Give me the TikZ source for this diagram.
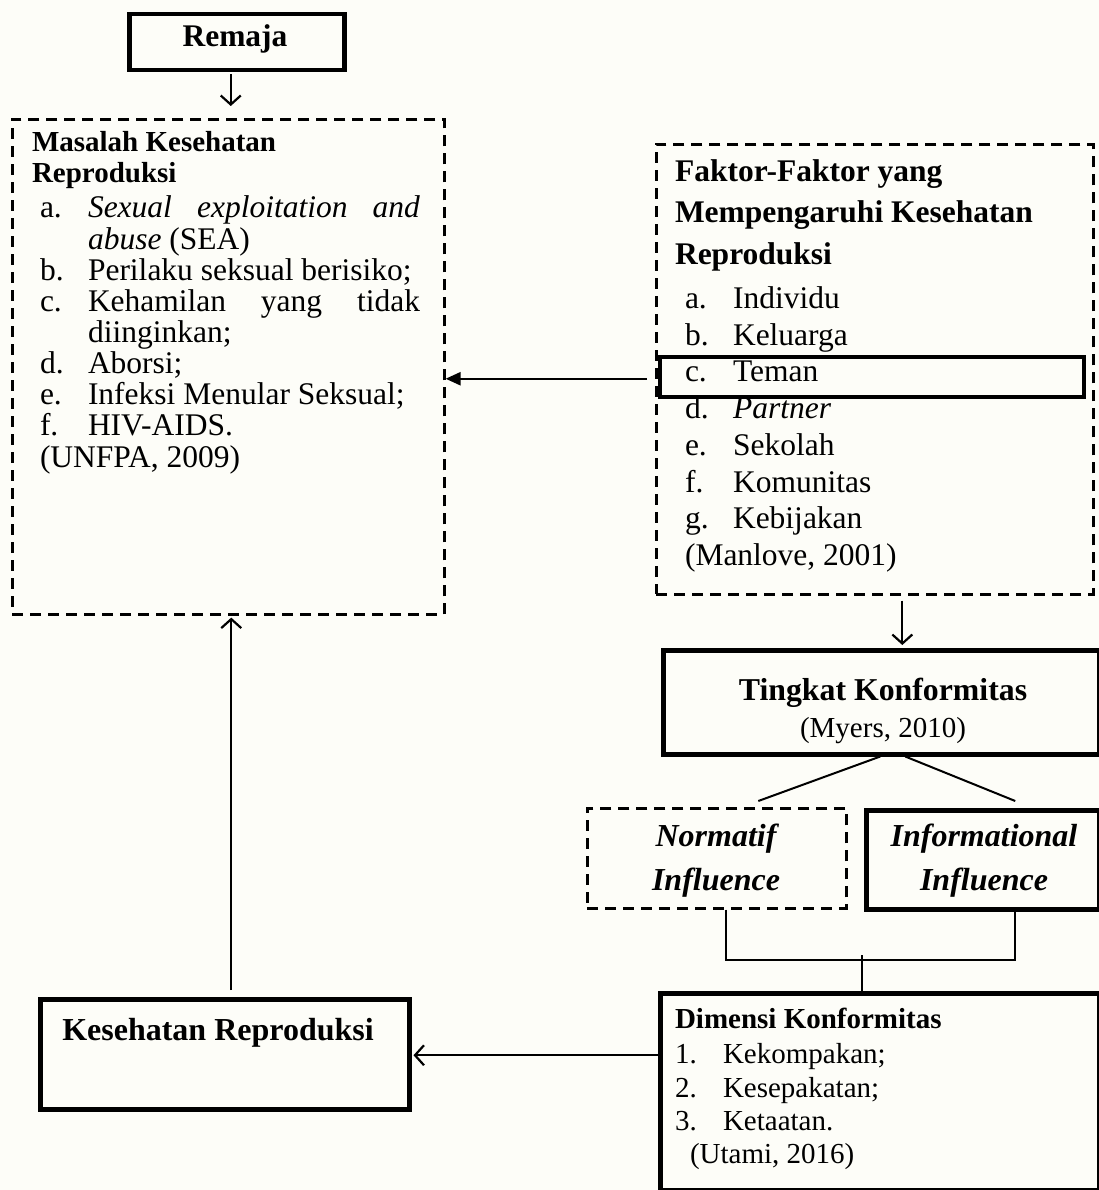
\documentclass[tikz,border=0pt]{standalone}
\usepackage{fontspec}
\setmainfont{Liberation Serif}
\usetikzlibrary{arrows.meta,calc}
\newcommand\fwide{\rmfamily\fontsize{31.5}{31}\selectfont}
\newcommand\fmid{\rmfamily\fontsize{29}{31}\selectfont}
\newcommand\fbig{\rmfamily\fontsize{31.8}{33}\selectfont}
\newcommand\fbigger{\rmfamily\fontsize{32}{36}\selectfont}
\definecolor{bgc}{RGB}{253,253,248}
\begin{document}
\begin{tikzpicture}[x=1pt,y=-1pt,
  txt/.style={inner sep=0pt, outer sep=0pt, anchor=base west, font=\fwide},
  ctxt/.style={inner sep=0pt, outer sep=0pt, anchor=base},
  dbox/.style={draw, line width=2.6pt, dash pattern=on 11pt off 7pt, inner sep=0pt, anchor=north west},
  sbox/.style={draw, line width=4.5pt, inner sep=0pt, anchor=north west},
  oarr/.style={-{Straight Barb[length=9pt,width=20pt]}, line width=2.2pt},
  farr/.style={-{Triangle[length=15pt,width=13pt]}, line width=2.4pt},
  link/.style={line width=2pt}]
\fill[bgc] (0,0) rectangle (1099,1190);
\useasboundingbox (0,0) rectangle (1099,1190);

% boxes
\node[sbox, minimum width=215pt, minimum height=56pt] (remaja) at (127,12) {};
\node[dbox, minimum width=432pt, minimum height=495pt] (masalah) at (11,118) {};
\node[dbox, minimum width=437pt, minimum height=450pt] (faktor) at (655,143) {};
\node[sbox, line width=3.5pt, minimum width=424pt, minimum height=40pt] (teman) at (658,355) {};
\node[sbox, minimum width=436pt, minimum height=104pt] (tingkat) at (661,648) {};
\node[dbox, minimum width=259pt, minimum height=100pt] (normatif) at (586,807) {};
\node[sbox, minimum width=233pt, minimum height=99pt] (informational) at (864,808) {};
\node[sbox, minimum width=439pt, minimum height=197pt] (dimensi) at (658,991) {};
\node[sbox, minimum width=369pt, minimum height=110pt] (kesehatan) at (38,997) {};

% texts
\node[ctxt, font=\fwide\bfseries] (tremaja) at (235,47) {Remaja};

\node[txt, font=\fmid\bfseries] (m1) at (32,152) {Masalah Kesehatan};
\node[txt, font=\fmid\bfseries] (m2) at (32,183) {Reproduksi};
\node[txt] (ma) at (40,218) {a.};
\node[txt] (ma1) at (88,218) {\makebox[332pt][s]{\textit{Sexual} \textit{exploitation} \textit{and}}};
\node[txt] (ma2) at (88,249) {\textit{abuse} (SEA)};
\node[txt] (mb) at (40,280) {b.};
\node[txt] (mb1) at (88,280) {Perilaku seksual berisiko;};
\node[txt] (mc) at (40,311) {c.};
\node[txt] (mc1) at (88,311) {\makebox[332pt][s]{Kehamilan yang tidak}};
\node[txt] (mc2) at (88,342) {diinginkan;};
\node[txt] (md) at (40,373) {d.};
\node[txt] (md1) at (88,373) {Aborsi;};
\node[txt] (me) at (40,404) {e.};
\node[txt] (me1) at (88,404) {Infeksi Menular Seksual;};
\node[txt] (mf) at (40,435) {f.};
\node[txt] (mf1) at (88,435) {HIV-AIDS.};
\node[txt] (mref) at (40,467) {(UNFPA, 2009)};

\node[txt, font=\fwide\bfseries] (f1) at (675,182) {Faktor-Faktor yang};
\node[txt, font=\fwide\bfseries] (f2) at (675,223) {Mempengaruhi Kesehatan};
\node[txt, font=\fwide\bfseries] (f3) at (675,265) {Reproduksi};
\node[txt] (fa) at (685,308) {a.};
\node[txt] (fa1) at (733,308) {Individu};
\node[txt] (fb) at (685,345) {b.};
\node[txt] (fb1) at (733,345) {Keluarga};
\node[txt] (fc) at (685,381) {c.};
\node[txt] (fc1) at (733,381) {Teman};
\node[txt] (fd) at (685,418) {d.};
\node[txt] (fd1) at (733,418) {\textit{Partner}};
\node[txt] (fe) at (685,455) {e.};
\node[txt] (fe1) at (733,455) {Sekolah};
\node[txt] (ff) at (685,492) {f.};
\node[txt] (ff1) at (733,492) {Komunitas};
\node[txt] (fg) at (685,528) {g.};
\node[txt] (fg1) at (733,528) {Kebijakan};
\node[txt] (fref) at (685,565) {(Manlove, 2001)};

\node[ctxt, font=\fbig\bfseries] (t1) at (883,700) {Tingkat Konformitas};
\node[ctxt, font=\fmid] (t2) at (883,737) {(Myers, 2010)};

\node[ctxt, font=\fbigger\bfseries\itshape] (n1) at (716,846) {Normatif};
\node[ctxt, font=\fbigger\bfseries\itshape] (n2) at (716,890) {Influence};
\node[ctxt, font=\fbigger\bfseries\itshape] (i1) at (984,846) {Informational};
\node[ctxt, font=\fbigger\bfseries\itshape] (i2) at (984,890) {Influence};

\node[ctxt, font=\fbigger\bfseries] (k1) at (218,1040) {Kesehatan Reproduksi};

\node[txt, font=\fmid\bfseries] (d0) at (675,1028) {Dimensi Konformitas};
\node[txt, font=\fmid] (d1) at (675,1063) {1.};
\node[txt, font=\fmid] (d1t) at (723,1063) {Kekompakan;};
\node[txt, font=\fmid] (d2) at (675,1097) {2.};
\node[txt, font=\fmid] (d2t) at (723,1097) {Kesepakatan;};
\node[txt, font=\fmid] (d3) at (675,1130) {3.};
\node[txt, font=\fmid] (d3t) at (723,1130) {Ketaatan.};
\node[txt, font=\fmid] (dref) at (690,1163) {(Utami, 2016)};

% connectors
\draw[oarr] ($(remaja.south)+(-6,2)$) -- ($(remaja.south |- masalah.north)+(-6,-12)$);
\draw[farr] ($(teman.west)+(-11,2)$) -- ($(masalah.east |- teman.west)+(0,2)$);
\draw[oarr] ($(faktor.south)+(27.5,5)$) -- ($(faktor.south |- tingkat.north)+(27.5,-3)$);
\draw[link] ($(tingkat.south)+(-1,0)$) -- ($(normatif.north)+(41.5,-6)$);
\draw[link] ($(tingkat.south)+(24,0)$) -- ($(informational.north)+(32.5,-7)$);
\draw[link] ($(normatif.south)+(9.5,0)$) |- ($(informational.south)+(32.5,48)$) -- ($(informational.south)+(32.5,0)$);
\draw[link] ($(dimensi.north)+(-17.5,-36)$) -- ($(dimensi.north)+(-17.5,0)$);
\draw[oarr] ($(dimensi.west)+(0,-36.5)$) -- ($(kesehatan.east |- dimensi.west)+(2,-36.5)$);
\draw[oarr] ($(kesehatan.north)+(6.5,-7)$) -- ($(kesehatan.north |- masalah.south)+(6.5,2)$);
\end{tikzpicture}
\end{document}
